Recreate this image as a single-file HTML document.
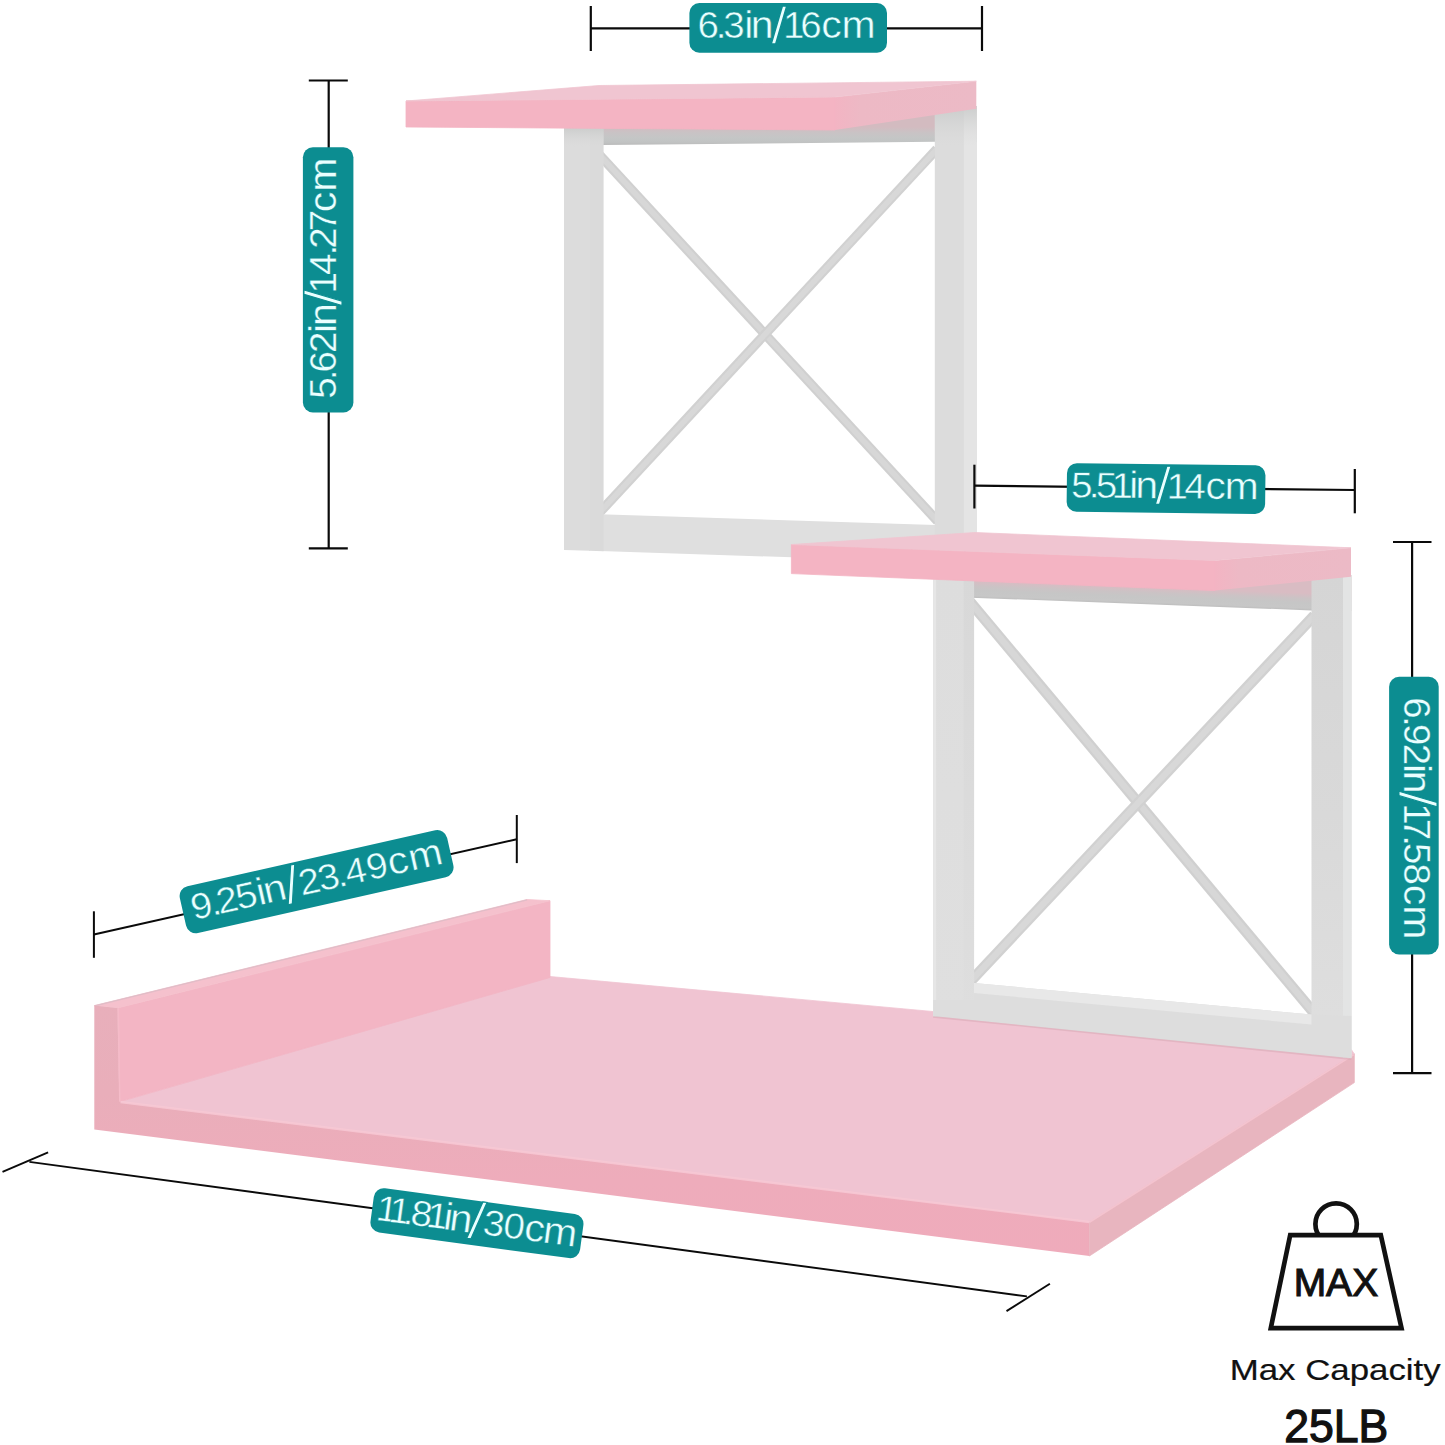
<!DOCTYPE html>
<html lang="en"><head><meta charset="utf-8"><title>Shelf dimensions</title>
<style>html,body{margin:0;padding:0;background:#fff}body{width:1445px;height:1445px;overflow:hidden}svg{display:block}text{font-family:"Liberation Sans", sans-serif}</style>
</head><body>
<svg width="1445" height="1445" viewBox="0 0 1445 1445">
<defs>
<linearGradient id="tb" gradientUnits="userSpaceOnUse" x1="0" y1="127" x2="0" y2="145.5"><stop offset="0" stop-color="#d3bbc0"/><stop offset="0.3" stop-color="#c9c3c5"/><stop offset="0.6" stop-color="#c4c6c6"/><stop offset="0.82" stop-color="#c1c3c3"/><stop offset="1" stop-color="#b9b9b9"/></linearGradient>
<linearGradient id="tb2" gradientUnits="userSpaceOnUse" x1="1100" y1="585.5" x2="1099.35" y2="603"><stop offset="0" stop-color="#d9bcc3"/><stop offset="0.3" stop-color="#cbc3c5"/><stop offset="0.55" stop-color="#c6c6c6"/><stop offset="0.85" stop-color="#c7c7c7"/><stop offset="1" stop-color="#bcbcbc"/></linearGradient>
<linearGradient id="postR2" x1="0" y1="0" x2="0" y2="1"><stop offset="0" stop-color="#d5d5d5"/><stop offset="0.5" stop-color="#d9d9d9"/><stop offset="1" stop-color="#dfdfdf"/></linearGradient>
<linearGradient id="postL2" x1="0" y1="0" x2="0" y2="1"><stop offset="0" stop-color="#d8d8d8"/><stop offset="1" stop-color="#dedede"/></linearGradient>
<linearGradient id="postL2f" x1="0" y1="0" x2="0" y2="1"><stop offset="0" stop-color="#dddddd"/><stop offset="1" stop-color="#dfdfdf"/></linearGradient>
<linearGradient id="side1" x1="0" y1="0" x2="1" y2="0"><stop offset="0" stop-color="#f3b4c3"/><stop offset="0.18" stop-color="#edb9c5"/><stop offset="1" stop-color="#ecbac6"/></linearGradient>
<linearGradient id="sh" x1="0" y1="0" x2="0" y2="1"><stop offset="0" stop-color="#c4c6c5" stop-opacity="0.75"/><stop offset="1" stop-color="#d8d8d8" stop-opacity="0"/></linearGradient>
<linearGradient id="lface" x1="0" y1="0" x2="0" y2="1"><stop offset="0" stop-color="#e8afbb"/><stop offset="0.35" stop-color="#e9aeba"/><stop offset="0.7" stop-color="#eeacbb"/><stop offset="1" stop-color="#efabbb"/></linearGradient>
</defs>
<rect width="1445" height="1445" fill="#ffffff"/>
<g id="base">
<polygon points="119.4,1101.8 550.0,976.5 1351.5,1049.8 1354.3,1054.0 1089.4,1222.0" fill="#f0c4d2" stroke="#f0c4d2" stroke-width="0.8" stroke-linejoin="round" />
<polygon points="117.4,1008.0 550.0,900.7 550.0,977.5 119.4,1101.8" fill="#f3b5c4" stroke="#f3b5c4" stroke-width="0.8" stroke-linejoin="round" />
<polygon points="94.3,1005.6 527.0,899.5 550.0,900.7 117.4,1008.0" fill="#f5c1cd" stroke="#f5c1cd" stroke-width="0.8" stroke-linejoin="round" />
<line x1="94.6" y1="1005.9" x2="527.0" y2="899.9" stroke="#dcbcc6" stroke-width="1.30" opacity="0.8"/>
<polygon points="94.3,1005.6 117.4,1008.0 119.4,1101.8 1089.4,1222.0 1089.4,1256.0 94.3,1129.5" fill="url(#lface)" />
<polygon points="1089.4,1222.0 1354.3,1054.0 1354.3,1082.6 1089.4,1256.0" fill="#e8b5bf" stroke="#e8b5bf" stroke-width="0.8" stroke-linejoin="round" />
<line x1="120.5" y1="1102.0" x2="1089.4" y2="1222.0" stroke="#f8c9d5" stroke-width="2.40" opacity="0.85"/>
<line x1="1089.4" y1="1222.3" x2="1353.8" y2="1054.6" stroke="#f7c7d3" stroke-width="1.60" opacity="0.8"/>
<line x1="118.4" y1="1008.3" x2="119.8" y2="1101.5" stroke="#f6bdca" stroke-width="1.60" opacity="0.8"/>
</g>
<g id="frame1">
<line x1="594.7" y1="149.7" x2="937.6" y2="521.2" stroke="#d0d0d0" stroke-width="9.60" />
<line x1="594.7" y1="149.7" x2="937.6" y2="521.2" stroke="#d7d7d7" stroke-width="5.40" />
<line x1="600.0" y1="512.1" x2="936.9" y2="149.1" stroke="#d1d1d1" stroke-width="9.60" />
<line x1="600.0" y1="512.1" x2="936.9" y2="149.1" stroke="#d8d8d8" stroke-width="5.40" />
<polygon points="564.0,127.0 977.0,108.0 977.0,142.0 935.4,141.7 603.6,145.0 564.0,145.0" fill="url(#tb)" />
<polygon points="600.0,514.3 935.4,525.0 935.4,562.0 600.0,551.1" fill="#dfdfdf" />
<polygon points="589.0,128.0 603.6,128.0 603.6,551.2 589.0,550.8" fill="#dadada" />
<polygon points="564.0,128.0 590.0,128.0 590.0,550.8 564.0,550.0" fill="#dcdcdc" />
<rect x="934.8" y="106" width="42" height="430" fill="#dcdcdc"/>
<rect x="963.9" y="106" width="12.9" height="430" fill="#e4e4e4"/>
<rect x="564" y="127" width="40" height="20" fill="url(#sh)"/>
<rect x="934.8" y="106" width="42" height="40" fill="url(#sh)"/>
</g>
<g id="shelf1">
<polygon points="835.0,97.0 976.3,81.2 976.3,108.7 835.0,130.0" fill="url(#side1)" />
<polygon points="406.0,101.0 835.0,97.0 835.0,130.0 406.0,127.0" fill="#f4b4c3" stroke="#f4b4c3" stroke-width="0.8" stroke-linejoin="round" />
<polygon points="406.0,101.0 599.0,85.5 976.3,81.2 835.0,97.0" fill="#f0c5d1" stroke="#f0c5d1" stroke-width="0.8" stroke-linejoin="round" />
</g>
<g id="frame2">
<line x1="965.8" y1="596.7" x2="1314.3" y2="1013.3" stroke="#d0d0d0" stroke-width="10.80" />
<line x1="965.8" y1="596.7" x2="1314.3" y2="1013.3" stroke="#d7d7d7" stroke-width="6.20" />
<line x1="967.4" y1="984.6" x2="1314.3" y2="615.5" stroke="#d1d1d1" stroke-width="10.80" />
<line x1="967.4" y1="984.6" x2="1314.3" y2="615.5" stroke="#d8d8d8" stroke-width="6.20" />
<polygon points="933.1,575.0 1351.3,575.0 1351.3,611.0 1311.5,610.4 963.6,597.4 933.1,597.4" fill="url(#tb2)" />
<rect x="933.1" y="575" width="41" height="442" fill="url(#postL2)"/>
<rect x="933.1" y="575" width="30.5" height="442" fill="url(#postL2f)"/>
<rect x="933.1" y="575" width="3" height="442" fill="#e6e6e6"/>
<rect x="1311.5" y="575" width="40" height="480" fill="url(#postR2)"/>
<rect x="1343" y="575" width="8.5" height="483" fill="#e3e4e4"/>
<polygon points="974.0,983.0 1311.5,1014.5 1351.3,1016.0 1351.3,1058.5 933.1,1016.3 933.1,1000.0 974.0,1000.0" fill="#dddddd" />
<polygon points="974.0,983.0 1311.5,1014.5 1311.5,1024.5 974.0,993.0" fill="#e8e8e8" />
<line x1="933.1" y1="1016.9" x2="1351.3" y2="1059.1" stroke="#d9a9b5" stroke-width="1.60" opacity="0.55"/>
</g>
<g id="shelf2">
<polygon points="1215.0,560.5 1351.0,547.8 1351.0,576.7 1215.0,590.6" fill="url(#side1)" />
<polygon points="791.4,544.5 1215.0,560.5 1215.0,590.6 791.4,573.6" fill="#f4b4c3" stroke="#f4b4c3" stroke-width="0.8" stroke-linejoin="round" />
<polygon points="791.4,544.5 975.0,532.5 1351.0,547.8 1215.0,560.5" fill="#f0c5d1" stroke="#f0c5d1" stroke-width="0.8" stroke-linejoin="round" />
</g>
<g id="dims">
<line x1="590.8" y1="28.3" x2="982.0" y2="28.3" stroke="#0a0a0a" stroke-width="2.20" />
<line x1="590.8" y1="6.0" x2="590.8" y2="51.0" stroke="#0a0a0a" stroke-width="2.20" />
<line x1="982.0" y1="6.0" x2="982.0" y2="51.0" stroke="#0a0a0a" stroke-width="2.20" />
<g transform="translate(788.2 27.9) rotate(0.00)"><rect x="-98.8" y="-24.8" width="197.6" height="49.6" rx="10" fill="#0c8d91"/><text transform="scale(1.07 1)" x="-84.8 -67.6 -60.6 -41.2 -35.0 -15.8 -4.8 11.3 30.8 49.7" dy="0 0 0 0 0 5.5 -5.5 0 0 0" y="10.3" font-size="36" fill="#e9ffff" stroke="#0c8d91" stroke-width="0.5" paint-order="fill stroke">6.3<tspan font-size="38.3">in</tspan><tspan font-size="52" stroke-width="1.25">/</tspan>16<tspan font-size="38.3">cm</tspan></text></g>
<line x1="328.7" y1="80.5" x2="328.7" y2="548.3" stroke="#0a0a0a" stroke-width="2.20" />
<line x1="308.8" y1="80.5" x2="347.8" y2="80.5" stroke="#0a0a0a" stroke-width="2.20" />
<line x1="308.8" y1="548.3" x2="347.8" y2="548.3" stroke="#0a0a0a" stroke-width="2.20" />
<g transform="translate(328.1 279.9) rotate(-90.00)"><rect x="-132.6" y="-25.2" width="265.2" height="50.5" rx="10" fill="#0c8d91"/><text transform="scale(1.07 1)" x="-111.0 -93.9 -86.6 -68.4 -49.6 -43.2 -23.9 -12.7 4.5 22.7 29.1 45.5 63.3 82.5" dy="0 0 0 0 0 0 5.5 -5.5 0 0 0 0 0 0" y="8.3" font-size="36" fill="#e9ffff" stroke="#0c8d91" stroke-width="0.3" paint-order="fill stroke">5.62<tspan font-size="38.3">in</tspan><tspan font-size="52" stroke-width="1.05">/</tspan>14.27<tspan font-size="38.3">cm</tspan></text></g>
<line x1="974.4" y1="485.7" x2="1354.8" y2="490.0" stroke="#0a0a0a" stroke-width="2.20" />
<line x1="974.4" y1="464.7" x2="974.4" y2="508.5" stroke="#0a0a0a" stroke-width="2.20" />
<line x1="1354.8" y1="469.0" x2="1354.8" y2="513.3" stroke="#0a0a0a" stroke-width="2.20" />
<g transform="translate(1166.0 488.6) rotate(0.66)"><rect x="-99.2" y="-24.3" width="198.5" height="48.6" rx="10" fill="#0c8d91"/><text transform="scale(1.07 1)" x="-88.8 -72.2 -65.6 -50.8 -34.4 -28.6 -10.0 0.6 17.1 36.8 54.9" dy="0 0 0 0 0 0 5.5 -5.5 0 0 0" y="9.8" font-size="36" fill="#e9ffff" stroke="#0c8d91" stroke-width="0.5" paint-order="fill stroke">5.51<tspan font-size="38.3">in</tspan><tspan font-size="52" stroke-width="1.25">/</tspan>14<tspan font-size="38.3">cm</tspan></text></g>
<line x1="1412.1" y1="542.0" x2="1412.1" y2="1073.2" stroke="#0a0a0a" stroke-width="2.20" />
<line x1="1393.0" y1="542.0" x2="1431.5" y2="542.0" stroke="#0a0a0a" stroke-width="2.20" />
<line x1="1393.0" y1="1073.2" x2="1431.5" y2="1073.2" stroke="#0a0a0a" stroke-width="2.20" />
<g transform="translate(1413.9 815.6) rotate(90.00)"><rect x="-138.8" y="-24.8" width="277.7" height="49.6" rx="10" fill="#0c8d91"/><text transform="scale(1.07 1)" x="-110.6 -93.2 -85.7 -67.1 -48.3 -42.0 -22.7 -11.5 2.9 18.4 25.5 44.7 64.6 83.7" dy="0 0 0 0 0 0 5.5 -5.5 0 0 0 0 0 0" y="9.6" font-size="36" fill="#e9ffff" stroke="#0c8d91" stroke-width="0.3" paint-order="fill stroke">6.92<tspan font-size="38.3">in</tspan><tspan font-size="52" stroke-width="1.05">/</tspan>17.58<tspan font-size="38.3">cm</tspan></text></g>
<line x1="93.9" y1="934.6" x2="516.8" y2="839.2" stroke="#0a0a0a" stroke-width="2.00" />
<line x1="93.9" y1="911.3" x2="93.9" y2="957.8" stroke="#0a0a0a" stroke-width="2.00" />
<line x1="516.8" y1="815.0" x2="516.8" y2="863.1" stroke="#0a0a0a" stroke-width="2.00" />
<g transform="translate(316.6 881.7) rotate(-12.70)"><rect x="-137.0" y="-24.0" width="274.0" height="48.0" rx="10" fill="#0c8d91"/><text transform="scale(1.07 1)" x="-119.9 -102.0 -95.4 -77.0 -57.2 -50.5 -30.8 -16.7 1.7 19.1 27.6 48.4 68.7 88.5" dy="0 0 0 0 0 0 5.5 -5.5 0 0 0 0 0 0" y="10.3" font-size="36" fill="#e9ffff" stroke="#0c8d91" stroke-width="0.45" paint-order="fill stroke">9.25<tspan font-size="38.3">in</tspan><tspan font-size="52" stroke-width="1.2">/</tspan>23.49<tspan font-size="38.3">cm</tspan></text></g>
<line x1="29.4" y1="1161.9" x2="1026.9" y2="1296.4" stroke="#0a0a0a" stroke-width="1.90" />
<line x1="2.5" y1="1171.9" x2="48.1" y2="1152.4" stroke="#0a0a0a" stroke-width="1.90" />
<line x1="1006.5" y1="1311.1" x2="1049.9" y2="1283.7" stroke="#0a0a0a" stroke-width="1.90" />
<g transform="translate(477.0 1223.2) rotate(7.70)"><rect x="-105.8" y="-22.2" width="211.5" height="44.5" rx="10" fill="#0c8d91"/><text transform="scale(1.07 1)" x="-95.0 -83.0 -69.2 -62.4 -47.5 -31.4 -25.9 -7.6 5.7 24.9 44.8 62.3" dy="0 0 0 0 0 0 0 5.5 -5.5 0 0 0" y="10.3" font-size="36" fill="#e9ffff" stroke="#0c8d91" stroke-width="0.45" paint-order="fill stroke">11.81<tspan font-size="38.3">in</tspan><tspan font-size="52" stroke-width="1.2">/</tspan>30<tspan font-size="38.3">cm</tspan></text></g>
</g>
<g id="max">
<circle cx="1336.1" cy="1224" r="20.7" fill="none" stroke="#111" stroke-width="4.7"/>
<polygon points="1290.2,1235.1 1380.8,1235.1 1401.5,1328.1 1270.8,1328.1" fill="#fff" stroke="#111" stroke-width="4.7" stroke-linejoin="miter"/>
<text x="1335.9" y="1295.6" text-anchor="middle" font-size="39" textLength="84.5" lengthAdjust="spacingAndGlyphs" fill="#111" stroke="#111" stroke-width="1.1">MAX</text>
<text x="1335.2" y="1379.6" text-anchor="middle" font-size="30" textLength="211" lengthAdjust="spacingAndGlyphs" fill="#111" stroke="#111" stroke-width="0.2">Max Capacity</text>
<text x="1336.3" y="1441.8" text-anchor="middle" font-size="46.5" textLength="104" lengthAdjust="spacingAndGlyphs" fill="#111" stroke="#111" stroke-width="1.3">25LB</text>
</g>
</svg>
</body></html>
